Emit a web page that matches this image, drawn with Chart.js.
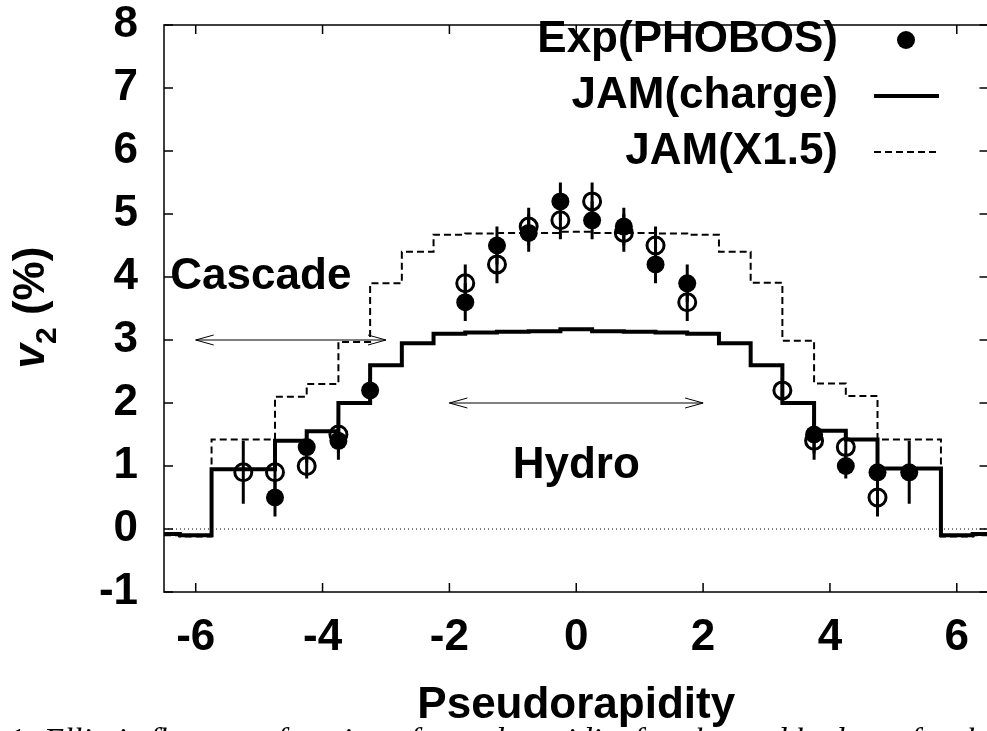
<!DOCTYPE html>
<html>
<head>
<meta charset="utf-8">
<script src="https://cdn.jsdelivr.net/npm/chart.js@4.4.0/dist/chart.umd.min.js"></script>
<style>
  html, body { margin: 0; padding: 0; background: #fff; overflow: hidden; }
  #wrap { width: 1000px; height: 731px; }
  canvas { display: block; }
</style>
</head>
<body>
<div id="wrap"><canvas id="v2Chart" width="1000" height="731"></canvas></div>
<script>
// JAM histograms, bin centres every 0.5 in pseudorapidity
const binCenters = [-6.5, -6.0, -5.5, -5.0, -4.5, -4.0, -3.5, -3.0, -2.5, -2.0, -1.5, -1.0, -0.5, 0.0,
  0.5, 1.0, 1.5, 2.0, 2.5, 3.0, 3.5, 4.0, 4.5, 5.0, 5.5, 6.0, 6.5];
const jamCharge = [-0.08, -0.1, 0.95, 0.95, 1.4, 1.55, 2.0, 2.6, 2.95, 3.1, 3.12, 3.13, 3.14, 3.17,
  3.14, 3.13, 3.12, 3.1, 2.95, 2.6, 2.0, 1.56, 1.42, 0.96, 0.96, -0.1, -0.08];
const jamX15 = [-0.1, -0.12, 1.42, 1.42, 2.1, 2.3, 2.97, 3.9, 4.4, 4.67, 4.69, 4.7, 4.7, 4.72,
  4.7, 4.7, 4.69, 4.67, 4.4, 3.91, 2.99, 2.31, 2.11, 1.42, 1.42, -0.12, -0.1];

// PHOBOS data (filled) and its reflection about eta = 0 (open)
const phobosEta = [-4.75, -4.25, -3.75, -3.25, -1.75, -1.25, -0.75, -0.25, 0.25, 0.75, 1.25, 1.75, 3.75, 4.25, 4.75, 5.25];
const phobosV2 = [0.5, 1.3, 1.4, 2.2, 3.6, 4.5, 4.7, 5.2, 4.9, 4.8, 4.2, 3.9, 1.5, 1.0, 0.9, 0.9];
const phobosErr = [0.3, 0.25, 0.3, 0.2, 0.3, 0.3, 0.3, 0.3, 0.3, 0.3, 0.3, 0.3, 0.3, 0.2, 0.3, 0.5];

const reflEta = [-5.25, -4.75, -4.25, -3.75, -1.75, -1.25, -0.75, -0.25, 0.25, 0.75, 1.25, 1.75, 3.25, 3.75, 4.25, 4.75];
const reflV2 = [0.9, 0.9, 1.0, 1.5, 3.9, 4.2, 4.8, 4.9, 5.2, 4.7, 4.5, 3.6, 2.2, 1.4, 1.3, 0.5];
const reflErr = [0.5, 0.3, 0.2, 0.3, 0.3, 0.3, 0.3, 0.3, 0.3, 0.3, 0.3, 0.3, 0.2, 0.3, 0.25, 0.3];

const xTicks = [-6, -4, -2, 0, 2, 4, 6];
const yTicks = [-1, 0, 1, 2, 3, 4, 5, 6, 7, 8];
const zeroLineEta = [-6.5, 6.5];

// annotations (data coordinates)
const arrows = [{ from: -6, to: -3, y: 3 }, { from: -2, to: 2, y: 2 }];
const textLabels = [
  { text: 'Cascade', x: -6.4, y: 4.0, align: 'left' },
  { text: 'Hydro', x: 0, y: 1.0, align: 'center' }
];
const caption = '1: Elliptic flow as a function of pseudorapidity for charged hadrons for the';

const FONT = '"Liberation Sans", Arial, sans-serif';

const toXY = (xs, ys) => xs.map((x, i) => ({ x: x, y: ys[i] }));

const gnuplotBits = {
  id: 'gnuplotBits',
  beforeDatasetsDraw(chart) {
    const { ctx, scales: { x, y } } = chart;
    ctx.save();
    ctx.beginPath();
    ctx.rect(chart.chartArea.left, chart.chartArea.top, chart.chartArea.width, chart.chartArea.height);
    ctx.clip();
    ctx.strokeStyle = '#000';
    ctx.lineWidth = 3;
    const bars = (etas, vals, errs) => etas.forEach((e, i) => {
      const px = x.getPixelForValue(e);
      ctx.beginPath();
      ctx.moveTo(px, y.getPixelForValue(vals[i] - errs[i]));
      ctx.lineTo(px, y.getPixelForValue(vals[i] + errs[i]));
      ctx.stroke();
    });
    bars(phobosEta, phobosV2, phobosErr);
    bars(reflEta, reflV2, reflErr);
    ctx.restore();
  },
  afterDraw(chart) {
    const { ctx, chartArea: a, scales: { x, y } } = chart;
    ctx.save();

    // frame + inward ticks
    ctx.strokeStyle = '#000';
    ctx.lineWidth = 1.5;
    ctx.strokeRect(a.left, a.top, a.right - a.left, a.bottom - a.top);
    ctx.beginPath();
    xTicks.forEach(v => {
      const px = x.getPixelForValue(v);
      ctx.moveTo(px, a.bottom); ctx.lineTo(px, a.bottom - 9);
      ctx.moveTo(px, a.top); ctx.lineTo(px, a.top + 9);
    });
    yTicks.forEach(v => {
      const py = y.getPixelForValue(v);
      ctx.moveTo(a.left, py); ctx.lineTo(a.left + 9, py);
      ctx.moveTo(a.right, py); ctx.lineTo(a.right - 9, py);
    });
    ctx.stroke();

    // arrows
    ctx.lineWidth = 1;
    arrows.forEach(ar => {
      const x0 = x.getPixelForValue(ar.from), x1 = x.getPixelForValue(ar.to);
      const py = y.getPixelForValue(ar.y);
      ctx.beginPath();
      ctx.moveTo(x0, py); ctx.lineTo(x1, py);
      ctx.moveTo(x0 + 18, py - 5); ctx.lineTo(x0, py); ctx.lineTo(x0 + 18, py + 5);
      ctx.moveTo(x1 - 18, py - 5); ctx.lineTo(x1, py); ctx.lineTo(x1 - 18, py + 5);
      ctx.stroke();
    });

    // text labels
    ctx.fillStyle = '#000';
    ctx.font = 'bold 44px ' + FONT;
    ctx.textBaseline = 'middle';
    textLabels.forEach(t => {
      ctx.textAlign = t.align;
      ctx.fillText(t.text, x.getPixelForValue(t.x), y.getPixelForValue(t.y));
    });

    // legend (gnuplot style: text right-aligned, sample on the right)
    const items = chart.data.datasets.filter(ds => ds.label);
    items.forEach((ds, i) => {
      const cy = 40 + i * 56;
      ctx.textAlign = 'right';
      ctx.fillText(ds.label, 838, cy);
      if (ds.showLine === false) {
        ctx.beginPath();
        ctx.arc(906, cy, ds.pointRadius, 0, Math.PI * 2);
        ctx.fill();
      } else {
        ctx.beginPath();
        ctx.lineWidth = ds.borderWidth;
        ctx.setLineDash(ds.borderDash || []);
        ctx.moveTo(874, cy); ctx.lineTo(939, cy);
        ctx.stroke();
        ctx.setLineDash([]);
      }
    });

    // y title: v_2 (%)
    ctx.save();
    ctx.translate(44, (a.top + a.bottom) / 2 + 60);
    ctx.rotate(-Math.PI / 2);
    ctx.textAlign = 'left';
    ctx.textBaseline = 'alphabetic';
    ctx.font = 'italic bold 44px ' + FONT;
    ctx.fillText('v', 0, 0);
    let w = ctx.measureText('v').width;
    ctx.font = 'bold 30px ' + FONT;
    ctx.fillText('2', w, 12);
    w += ctx.measureText('2').width;
    ctx.font = 'bold 44px ' + FONT;
    ctx.fillText(' (%)', w, 0);
    ctx.restore();

    // cropped figure caption
    ctx.font = 'italic 33px "Liberation Serif", "Times New Roman", serif';
    ctx.textAlign = 'left';
    ctx.textBaseline = 'alphabetic';
    ctx.fillText(caption, 8, 751);

    ctx.restore();
  }
};

new Chart(document.getElementById('v2Chart'), {
  type: 'line',
  data: {
    datasets: [
      {
        label: 'Exp(PHOBOS)',
        data: toXY(phobosEta, phobosV2),
        showLine: false,
        pointRadius: 9,
        pointBackgroundColor: '#000',
        pointBorderWidth: 0,
        order: 0
      },
      {
        label: '',
        data: toXY(reflEta, reflV2),
        showLine: false,
        pointRadius: 8.5,
        pointBackgroundColor: 'rgba(0,0,0,0)',
        pointBorderColor: '#000',
        pointBorderWidth: 3,
        order: 1
      },
      {
        label: 'JAM(charge)',
        data: toXY(binCenters, jamCharge),
        stepped: 'middle',
        borderColor: '#000',
        borderWidth: 4,
        pointRadius: 0,
        order: 2
      },
      {
        label: 'JAM(X1.5)',
        data: toXY(binCenters, jamX15),
        stepped: 'middle',
        borderColor: '#000',
        borderWidth: 2,
        borderDash: [7, 4],
        pointRadius: 0,
        order: 3
      },
      {
        label: '',
        data: toXY(zeroLineEta, [0, 0]),
        borderColor: '#000',
        borderWidth: 1,
        borderDash: [1, 3],
        pointRadius: 0,
        order: 4
      }
    ]
  },
  options: {
    responsive: false,
    animation: false,
    events: [],
    layout: { padding: { top: 25, right: 10, left: 0, bottom: 0 } },
    plugins: { legend: { display: false }, tooltip: { enabled: false } },
    scales: {
      x: {
        type: 'linear',
        min: -6.5,
        max: 6.5,
        afterBuildTicks: s => { s.ticks = xTicks.map(v => ({ value: v })); },
        afterFit: s => { s.height = 139; s.paddingLeft = 0; s.paddingRight = 0; },
        grid: { display: false },
        border: { display: false },
        ticks: {
          color: '#000',
          padding: 16,
          maxRotation: 0,
          font: { family: FONT, size: 44, weight: 'bold', lineHeight: 1 }
        },
        title: {
          display: true,
          text: 'Pseudorapidity',
          color: '#000',
          padding: { top: 0, bottom: 3 },
          font: { family: FONT, size: 44, weight: 'bold', lineHeight: 1 }
        }
      },
      y: {
        min: -1,
        max: 8,
        afterBuildTicks: s => { s.ticks = yTicks.map(v => ({ value: v })); },
        afterFit: s => { s.width = 164; s.paddingTop = 0; s.paddingBottom = 0; },
        grid: { display: false },
        border: { display: false },
        ticks: {
          color: '#000',
          padding: 18,
          font: { family: FONT, size: 44, weight: 'bold', lineHeight: 1 }
        }
      }
    }
  },
  plugins: [gnuplotBits]
});
</script>
</body>
</html>
